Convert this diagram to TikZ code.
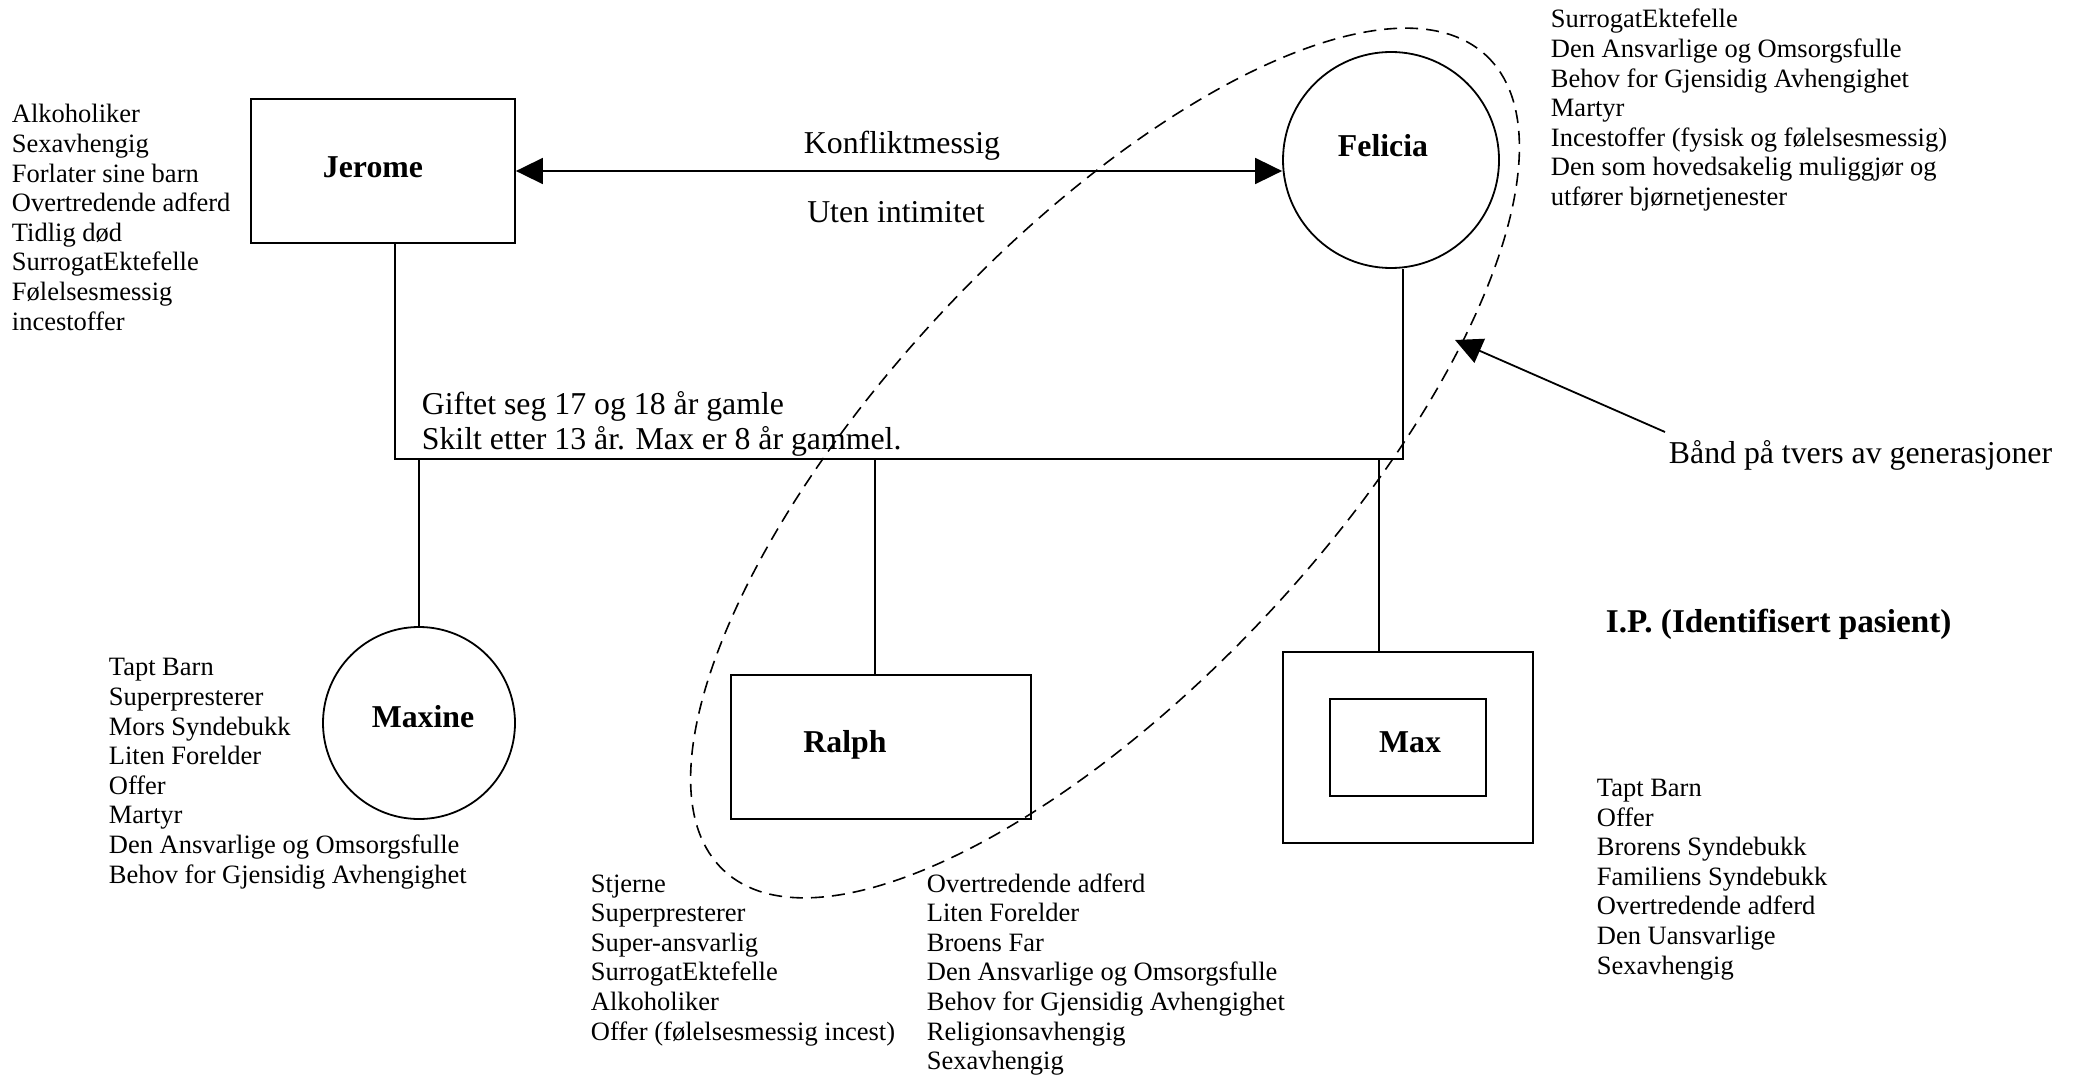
\documentclass[tikz,border=0pt]{standalone}
\usepackage{fontspec}
\setmainfont{Liberation Serif}
\usetikzlibrary{arrows.meta}
\begin{document}
\begin{tikzpicture}[x=0.5pt,y=-0.5pt,line width=0.9pt,
  box/.style={draw,rectangle,inner sep=0pt,minimum width=132pt,minimum height=72pt},
  ring/.style={draw,circle,inner sep=0pt},
  who/.style={anchor=base,inner sep=0pt,font=\bfseries\fontsize{15.9}{19}\selectfont},
  % multi-line lists are placed by the baseline of their last line
  lst/.style={align=left,anchor=base west,inner sep=0pt,font=\fontsize{13.25}{14.8}\selectfont},
  big/.style={inner sep=0pt,font=\fontsize{15.9}{17.5}\selectfont},
  tip/.style={-{Triangle[length=13.5pt,width=13pt]}},
  bothtip/.style={{Triangle[length=13.5pt,width=13pt]}-{Triangle[length=13.5pt,width=13pt]}},
  bond/.style={dashed,dash pattern=on 6.5pt off 4pt,line width=0.8pt}]
\useasboundingbox (0,0) rectangle (2080,1075);

% parents
\node[box] (jerome) at (383,171) {};
\node[who] (jeromet) at (373,177) {Jerome};
\node[ring,minimum size=108pt] (felicia) at (1391,160) {};
\node[who] (feliciat) at (1383,157) {Felicia};

% children
\node[ring,minimum size=96pt] (maxine) at (419,723) {};
\node[who] (maxinet) at (423,727) {Maxine};
\node[box,minimum width=150pt] (ralph) at (881,747) {};
\node[who] (ralpht) at (845,752) {Ralph};
\node[draw,rectangle,inner sep=0pt,minimum width=125pt,minimum height=95.5pt] (maxout) at (1408,747.5) {};
\node[draw,rectangle,inner sep=0pt,minimum width=78pt,minimum height=48.5pt] (maxin) at (1408,747.5) {};
\node[who] (maxt) at (1410,752) {Max};

% relationship between the parents
\draw[bothtip] (jerome.east) -- (jerome.east -| felicia.west);
\node[big,anchor=base] (konflikt) at (902,154) {Konfliktmessig};
\node[big,anchor=base] (uten) at (896,222) {Uten intimitet};

% marriage line and descent lines
\coordinate (mj) at (395,459);
\coordinate (mf) at (1403,459);
\draw (jerome.south -| mj) -- (mj) -- (mf) -- (mf |- felicia.south);
\coordinate (cm) at (419,459);
\coordinate (cr) at (875,459);
\coordinate (cx) at (1379,459);
\draw (cm) -- (maxine.north);
\draw (cr) -- (cr |- ralph.north);
\draw (cx) -- (cx |- maxout.north);
\node[big,align=left,anchor=base west] (gift) at (421,449)
  {Giftet seg 17 og 18 år gamle\\Skilt etter 13 år. Max er 8 år gammel.};

% cross-generational bond
\draw[bond,rotate around={46.9:(1105,463)}] (1105,463) ellipse [x radius=558,y radius=222];
\coordinate (bandfrom) at (1665,432);
\coordinate (bandtip) at (1455,340);
\draw[tip] (bandfrom) -- (bandtip);
\node[big,anchor=base west] (band) at (1668,463) {Bånd på tvers av generasjoner};
\node[who,anchor=base west,font=\bfseries\fontsize{16.6}{19}\selectfont] (ip) at (1605,632) {I.P. (Identifisert pasient)};

% role lists
\node[lst] (jeromel) at (11,330) {Alkoholiker\\Sexavhengig\\Forlater sine barn\\Overtredende adferd\\Tidlig død\\SurrogatEktefelle\\Følelsesmessig\\incestoffer};
\node[lst] (felicial) at (1550,205.6) {SurrogatEktefelle\\Den Ansvarlige og Omsorgsfulle\\Behov for Gjensidig Avhengighet\\Martyr\\Incestoffer (fysisk og følelsesmessig)\\Den som hovedsakelig muliggjør og\\utfører bjørnetjenester};
\node[lst] (maxinel) at (108,883) {Tapt Barn\\Superpresterer\\Mors Syndebukk\\Liten Forelder\\Offer\\Martyr\\Den Ansvarlige og Omsorgsfulle\\Behov for Gjensidig Avhengighet};
\node[lst] (ralpha) at (590,1040) {Stjerne\\Superpresterer\\Super-ansvarlig\\SurrogatEktefelle\\Alkoholiker\\Offer (følelsesmessig incest)};
\node[lst] (ralphb) at (926,1069.6) {Overtredende adferd\\Liten Forelder\\Broens Far\\Den Ansvarlige og Omsorgsfulle\\Behov for Gjensidig Avhengighet\\Religionsavhengig\\Sexavhengig};
\node[lst] (maxl) at (1596,974) {Tapt Barn\\Offer\\Brorens Syndebukk\\Familiens Syndebukk\\Overtredende adferd\\Den Uansvarlige\\Sexavhengig};
\end{tikzpicture}
\end{document}
